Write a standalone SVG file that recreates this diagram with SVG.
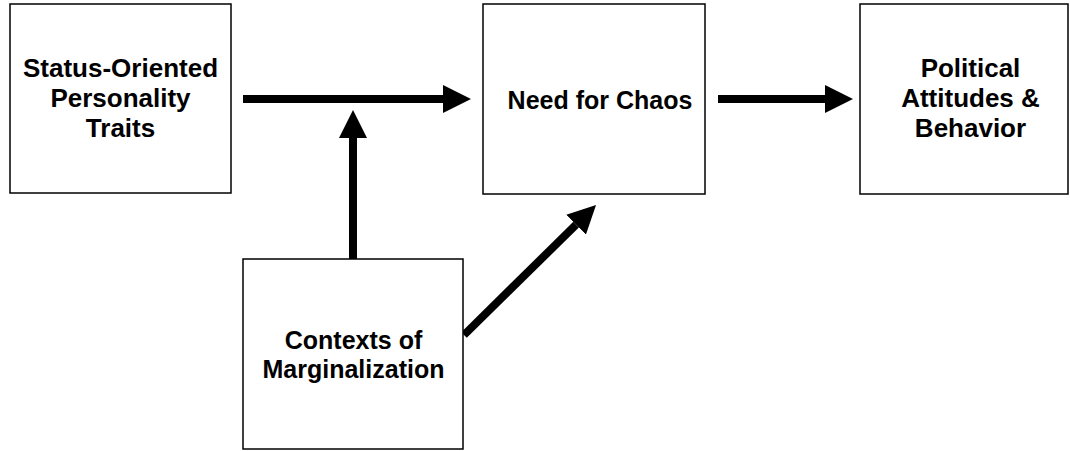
<svg xmlns="http://www.w3.org/2000/svg" width="1070" height="451" viewBox="0 0 1070 451">
<style>
.box{fill:#fff;stroke:#000;stroke-width:1.5}
.lbl{font-family:"Liberation Sans",Arial,Helvetica,sans-serif;font-weight:bold;font-size:25px;fill:#000;text-anchor:middle}
.big{font-size:26px}
.edge{stroke:#000;stroke-width:8;fill:none;marker-end:url(#ah)}
</style>
<defs>
<marker id="ah" markerUnits="userSpaceOnUse" markerWidth="28" markerHeight="28" viewBox="0 0 28 28" refX="0" refY="14" orient="auto">
<path d="M0,0 L28,14 L0,28 Z" fill="#000"/>
</marker>
</defs>
<rect width="1070" height="451" fill="#fff"/>
<g id="connectors">
<line class="edge" x1="243" y1="99" x2="443" y2="99"/>
<line class="edge" x1="353" y1="259" x2="353" y2="138"/>
<line class="edge" x1="718" y1="99" x2="825" y2="99"/>
<line class="edge" x1="464" y1="335" x2="576.1" y2="224.6"/>
</g>
<g id="status">
<rect class="box" x="10" y="4" width="221" height="189"/>
<text class="lbl big" x="120.5" y="77">Status-Oriented</text>
<text class="lbl big" x="120.5" y="106.5">Personality</text>
<text class="lbl big" x="120.5" y="136.5">Traits</text>
</g>
<g id="chaos">
<rect class="box" x="483" y="4" width="222" height="190"/>
<text class="lbl" x="600" y="109">Need for Chaos</text>
</g>
<g id="political">
<rect class="box" x="860" y="4" width="208" height="190"/>
<text class="lbl big" x="970.5" y="77">Political</text>
<text class="lbl big" x="970.5" y="106.5">Attitudes &amp;</text>
<text class="lbl big" x="970.5" y="136.5">Behavior</text>
</g>
<g id="contexts">
<rect class="box" x="243" y="259" width="220" height="190"/>
<text class="lbl" x="353.5" y="349">Contexts of</text>
<text class="lbl" x="353.5" y="378">Marginalization</text>
</g>
</svg>
